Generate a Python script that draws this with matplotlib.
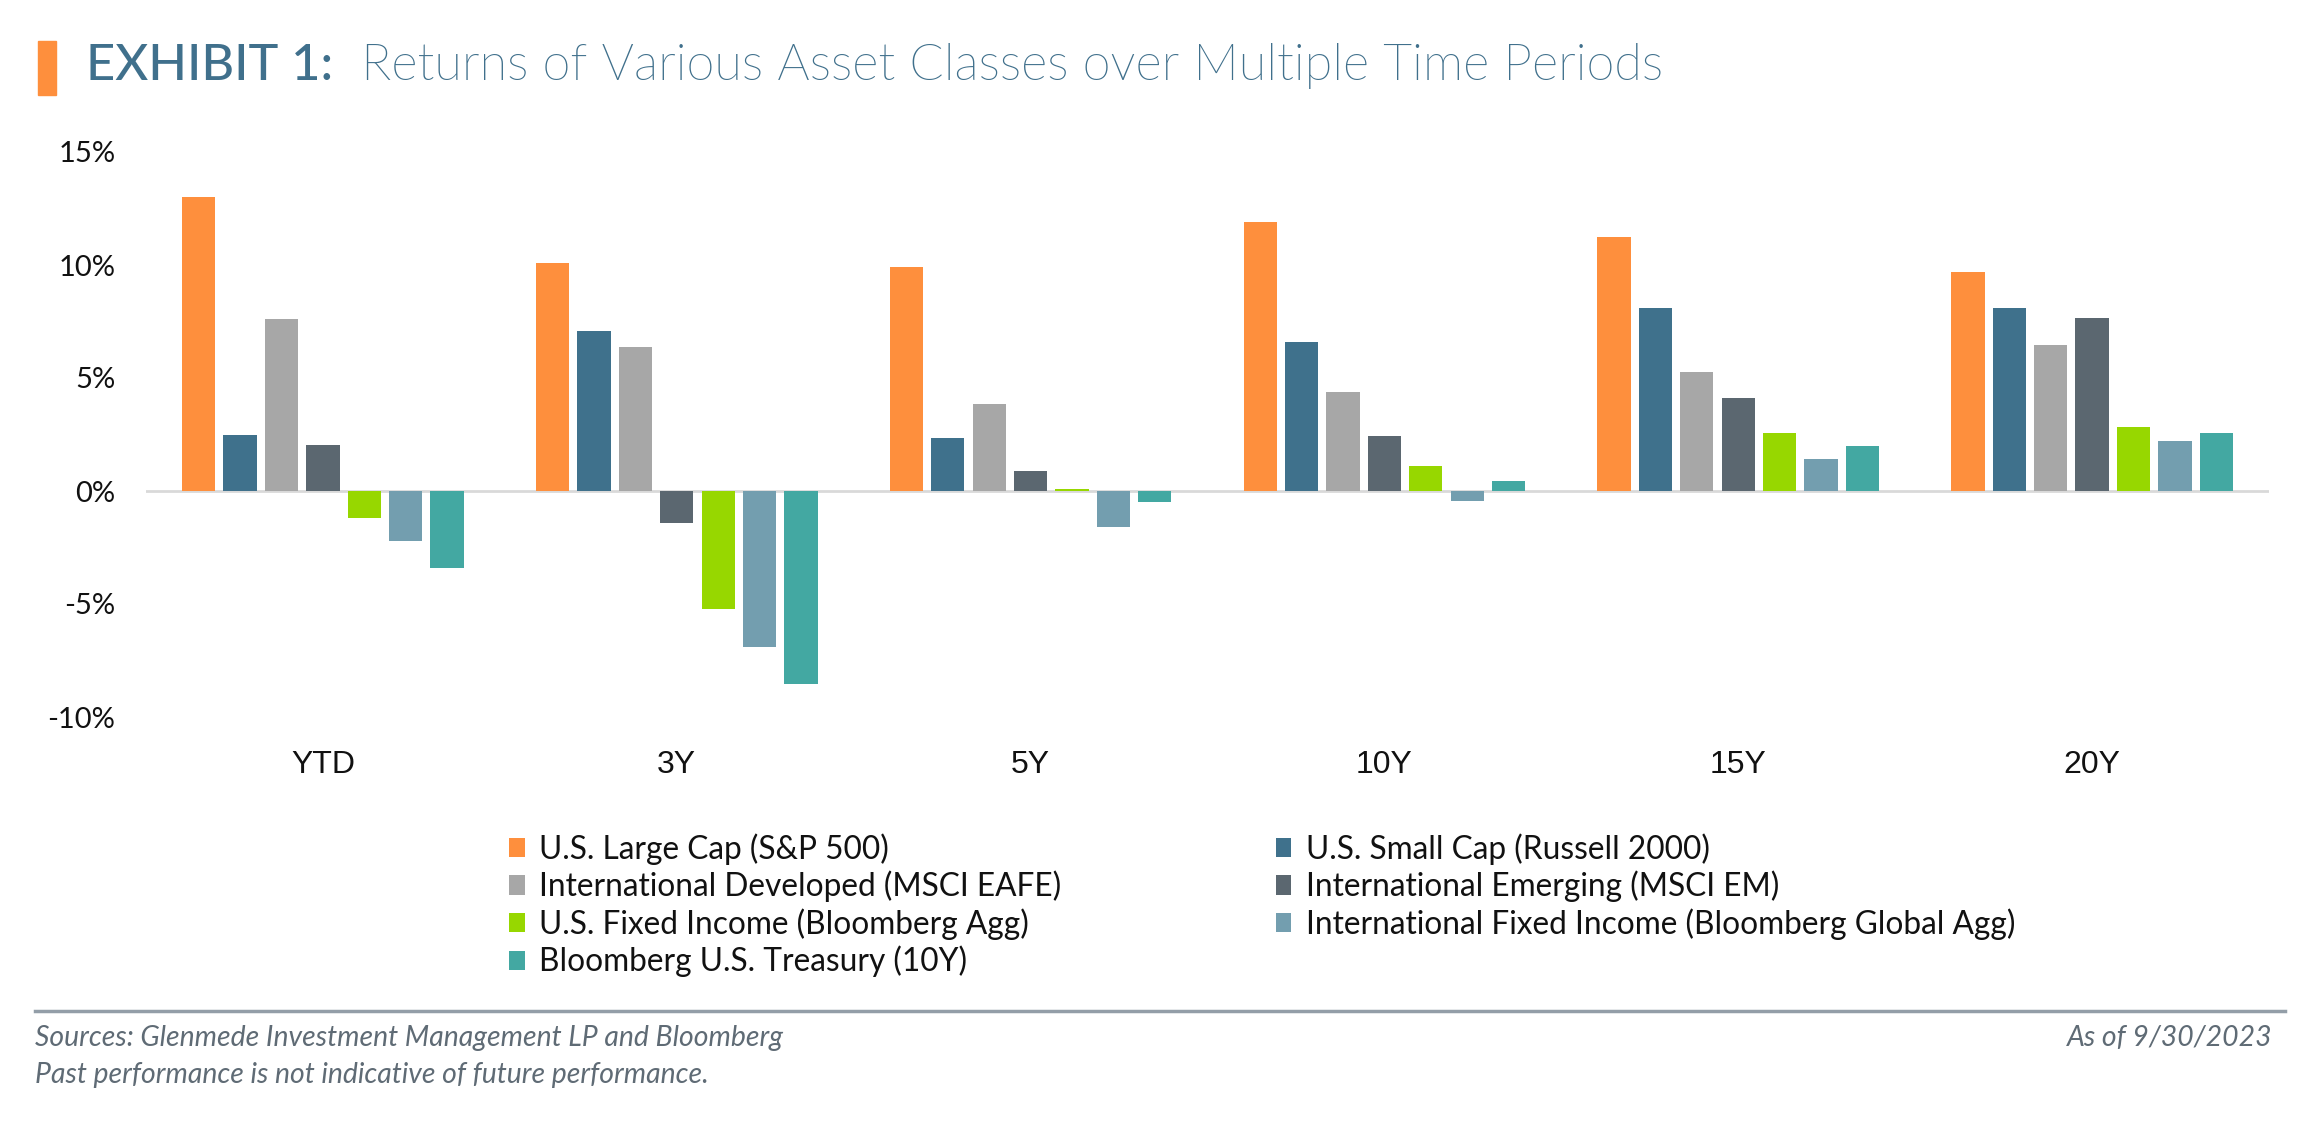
import matplotlib
matplotlib.use("Agg")
import matplotlib.pyplot as plt
import numpy as np
from matplotlib.patches import Rectangle
from matplotlib.lines import Line2D
from matplotlib.text import Annotation
from matplotlib import font_manager as fm

plt.rcParams['font.family'] = ['Lato', 'DejaVu Sans']
plt.rcParams['axes.unicode_minus'] = False

periods = ["YTD", "3Y", "5Y", "10Y", "15Y", "20Y"]
series_names = [
    "U.S. Large Cap (S&P 500)",
    "U.S. Small Cap (Russell 2000)",
    "International Developed (MSCI EAFE)",
    "International Emerging (MSCI EM)",
    "U.S. Fixed Income (Bloomberg Agg)",
    "International Fixed Income (Bloomberg Global Agg)",
    "Bloomberg U.S. Treasury (10Y)",
]
large_cap = [13.0, 10.1, 9.9, 11.9, 11.25, 9.7]
small_cap = [2.5, 7.1, 2.35, 6.6, 8.1, 8.1]
intl_dev = [7.6, 6.35, 3.85, 4.4, 5.25, 6.45]
intl_em = [2.05, -1.4, 0.9, 2.45, 4.1, 7.65]
us_fixed = [-1.2, -5.2, 0.1, 1.1, 2.55, 2.85]
intl_fixed = [-2.2, -6.9, -1.6, -0.45, 1.4, 2.2]
treasury = [-3.4, -8.55, -0.5, 0.45, 2.0, 2.55]
values = [large_cap, small_cap, intl_dev, intl_em, us_fixed, intl_fixed, treasury]
colors = ["#FE8F3D", "#3F718C", "#A7A7A7", "#5B6770", "#97D700", "#739EAF", "#43A8A2"]
y_ticks = [-10, -5, 0, 5, 10, 15]

# find a Lato Light face if available
light_fp = None
for f in fm.fontManager.ttflist:
    fn = f.fname.lower()
    if f.name == "Lato" and "light" in fn and "italic" not in fn and "hairline" not in fn:
        light_fp = fm.FontProperties(fname=f.fname)
        break
if light_fp is None:
    light_fp = fm.FontProperties(family="Lato", weight=300)

W, H = 2318, 1132
fig = plt.figure(figsize=(W / 100, H / 100), dpi=100)
ax = fig.add_axes([146 / W, 1 - 717 / H, (2269 - 146) / W, (717 - 152) / H])

x = np.arange(len(periods))
step = 0.117
width = 0.094
n = len(values)
handles = []
for i, (vals, c) in enumerate(zip(values, colors)):
    offs = (i - (n - 1) / 2) * step
    b = ax.bar(x + offs, vals, width=width, color=c, label=series_names[i], zorder=2)
    handles.append(b)

ax.axhline(0, color="#D9D9D9", lw=2, zorder=1)
ax.set_xlim(-0.5, len(periods) - 0.5)
ax.set_ylim(-10, 15)
ax.set_yticks(y_ticks)
ax.set_yticklabels([f"{t}%" for t in y_ticks])
ax.set_xticks(x)
ax.set_xticklabels(periods, family=["Liberation Sans", "DejaVu Sans"])
for s in ax.spines.values():
    s.set_visible(False)
ax.tick_params(axis="both", length=0, colors="#111111")
ax.tick_params(axis="y", pad=22, labelsize=21)
ax.tick_params(axis="x", pad=24, labelsize=23)

order = [0, 2, 4, 6, 1, 3, 5]
leg = fig.legend([handles[i] for i in order], [series_names[i] for i in order],
                 ncol=2, loc="upper left", bbox_to_anchor=(509 / W, 1 - 833 / H),
                 frameon=False, fontsize=22.8, handlelength=0.5, handleheight=0.55,
                 handletextpad=0.45, labelspacing=0.19, columnspacing=6.77,
                 borderaxespad=0, borderpad=0)
for t in leg.get_texts():
    t.set_color("#111111")

# Title
fig.patches.append(Rectangle((38 / W, 1 - 95 / H), 18 / W, 54 / H,
                             transform=fig.transFigure, color="#FE8F3D"))
t1 = fig.text(86 / W, 1 - 66 / H, "EXHIBIT 1:", fontsize=36.4, color="#40708C",
              va="center", ha="left", fontweight="medium")
fig.add_artist(Annotation("  Returns of Various Asset Classes over Multiple Time Periods",
                          xy=(1, 0), xycoords=t1, va="bottom", ha="left",
                          fontproperties=light_fp, fontsize=36.4, color="#40708C"))

# Footer
fig.add_artist(Line2D([35 / W, 2285 / W], [1 - 1011 / H, 1 - 1011 / H],
                      transform=fig.transFigure, color="#939EA8", lw=2.5))
foot_kw = dict(fontsize=20.4, style="italic", color="#5F6B75", va="center")
fig.text(35 / W, 1 - 1038 / H, "Sources: Glenmede Investment Management LP and Bloomberg",
         ha="left", **foot_kw)
fig.text(35 / W, 1 - 1075 / H, "Past performance is not indicative of future performance.",
         ha="left", **foot_kw)
fig.text(2273 / W, 1 - 1038 / H, "As of 9/30/2023", ha="right", **foot_kw)

fig.savefig("out.png", dpi=100, facecolor="white")
